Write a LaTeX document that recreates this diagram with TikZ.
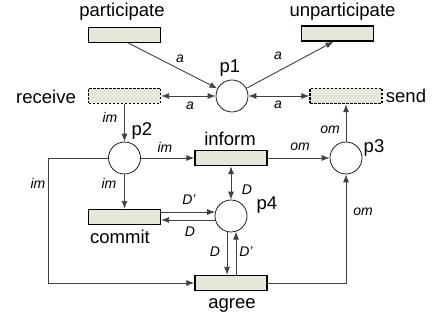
\documentclass[tikz,border=0pt]{standalone}
\usepackage{fontspec}
\setmainfont{Liberation Sans}
\usetikzlibrary{arrows.meta,calc}
\definecolor{tfill}{HTML}{E6E7DA}
\definecolor{ln}{HTML}{404040}
\begin{document}
\begin{tikzpicture}[x=1pt,y=-1pt,
 trans/.style={draw=black,line width=1.3pt,fill=tfill,minimum width=72pt,minimum height=15pt,inner sep=0pt},
 vtrans/.style={trans,dash pattern=on 2.5pt off 1.5pt},
 place/.style={circle,draw=black,line width=0.7pt,fill=white,minimum size=32pt,inner sep=0pt},
 big/.style={font=\fontsize{18.5}{20}\selectfont,inner sep=0pt},
 sm/.style={font=\fontsize{14}{16}\selectfont\itshape,inner sep=0pt},
 arr/.style={draw=ln,line width=0.9pt,-{Latex[length=8pt,width=6pt]}},
 darr/.style={draw=ln,line width=0.9pt,{Latex[length=8pt,width=6pt]}-{Latex[length=8pt,width=6pt]}}]
\useasboundingbox (0,0) rectangle (434,320);
% transitions
\node[trans] (part) at (124.5,35) {};
\node[trans] (unpart) at (337.5,33.5) {};
\node[vtrans] (recv) at (124.5,96) {};
\node[vtrans] (send) at (346,96) {};
\node[trans] (inform) at (231,158) {};
\node[trans] (commit) at (124.5,217) {};
\node[trans] (agree) at (231,283) {};
% places
\node[place] (p1) at (232,96) {};
\node[place] (p2) at (124.5,158) {};
\node[place] (p3) at (346,158) {};
\node[place] (p4) at (231,216) {};
% big labels
\node[big] (lpart) at (122,12) {participate};
\node[big] (lunpart) at (342.5,12) {unparticipate};
\node[big] (lp1) at (230,68) {p1};
\node[big] (lrecv) at (46,97) {receive};
\node[big] (lsend) at (406,96) {send};
\node[big] (lp2) at (142,131) {p2};
\node[big] (linform) at (230,139) {inform};
\node[big] (lp3) at (374,148) {p3};
\node[big] (lp4) at (267,205) {p4};
\node[big] (lcommit) at (120,237) {commit};
\node[big] (lagree) at (232,305) {agree};
% arcs
\draw[arr] ($(part.south)+(4,0)$) -- (p1);
\draw[arr] (p1) -- ($(unpart.south)+(-4,0)$);
\draw[darr] (recv.east) -- (p1.west);
\draw[darr] (p1.east) -- (send.west);
\draw[arr] (recv.south) -- (p2.north);
\draw[arr] (p2.east) -- (inform.west);
\draw[arr] (inform.east) -- (p3.west);
\draw[arr] (p3.north) -- (send.south);
\draw[darr] (inform.south) -- (p4.north);
\draw[arr] (p2.south) -- (commit.north);
\draw[arr] (p4.166 -| commit.east) -- (p4.166);
\draw[arr] (p4.194) -- (p4.194 -| commit.east);
\draw[arr] (p4.256) -- (p4.256 |- agree.north);
\draw[arr] (p4.288 |- agree.north) -- (p4.288);
\coordinate (c1) at (48,283);
\draw[arr] (p2.west) -| (c1) -- (agree.west);
\draw[arr] (agree.east) -| (p3.south);
% arc labels
\node[sm] (a1) at (180,59) {a};
\node[sm] (a2) at (190,106) {a};
\node[sm] (a3) at (278,56) {a};
\node[sm] (a4) at (278,105) {a};
\node[sm] (im1) at (110,117) {im};
\node[sm] (im2) at (165,147) {im};
\node[sm] (im3) at (109,183) {im};
\node[sm] (im4) at (38,183) {im};
\node[sm] (om1) at (300,147) {om};
\node[sm] (om2) at (330,130) {om};
\node[sm] (om3) at (363,212) {om};
\node[sm] (d1) at (247,190) {D};
\node[sm] (d2) at (189,200) {D'};
\node[sm] (d3) at (190,232) {D};
\node[sm] (d4) at (215,252) {D};
\node[sm] (d5) at (246,252) {D'};
\end{tikzpicture}
\end{document}
